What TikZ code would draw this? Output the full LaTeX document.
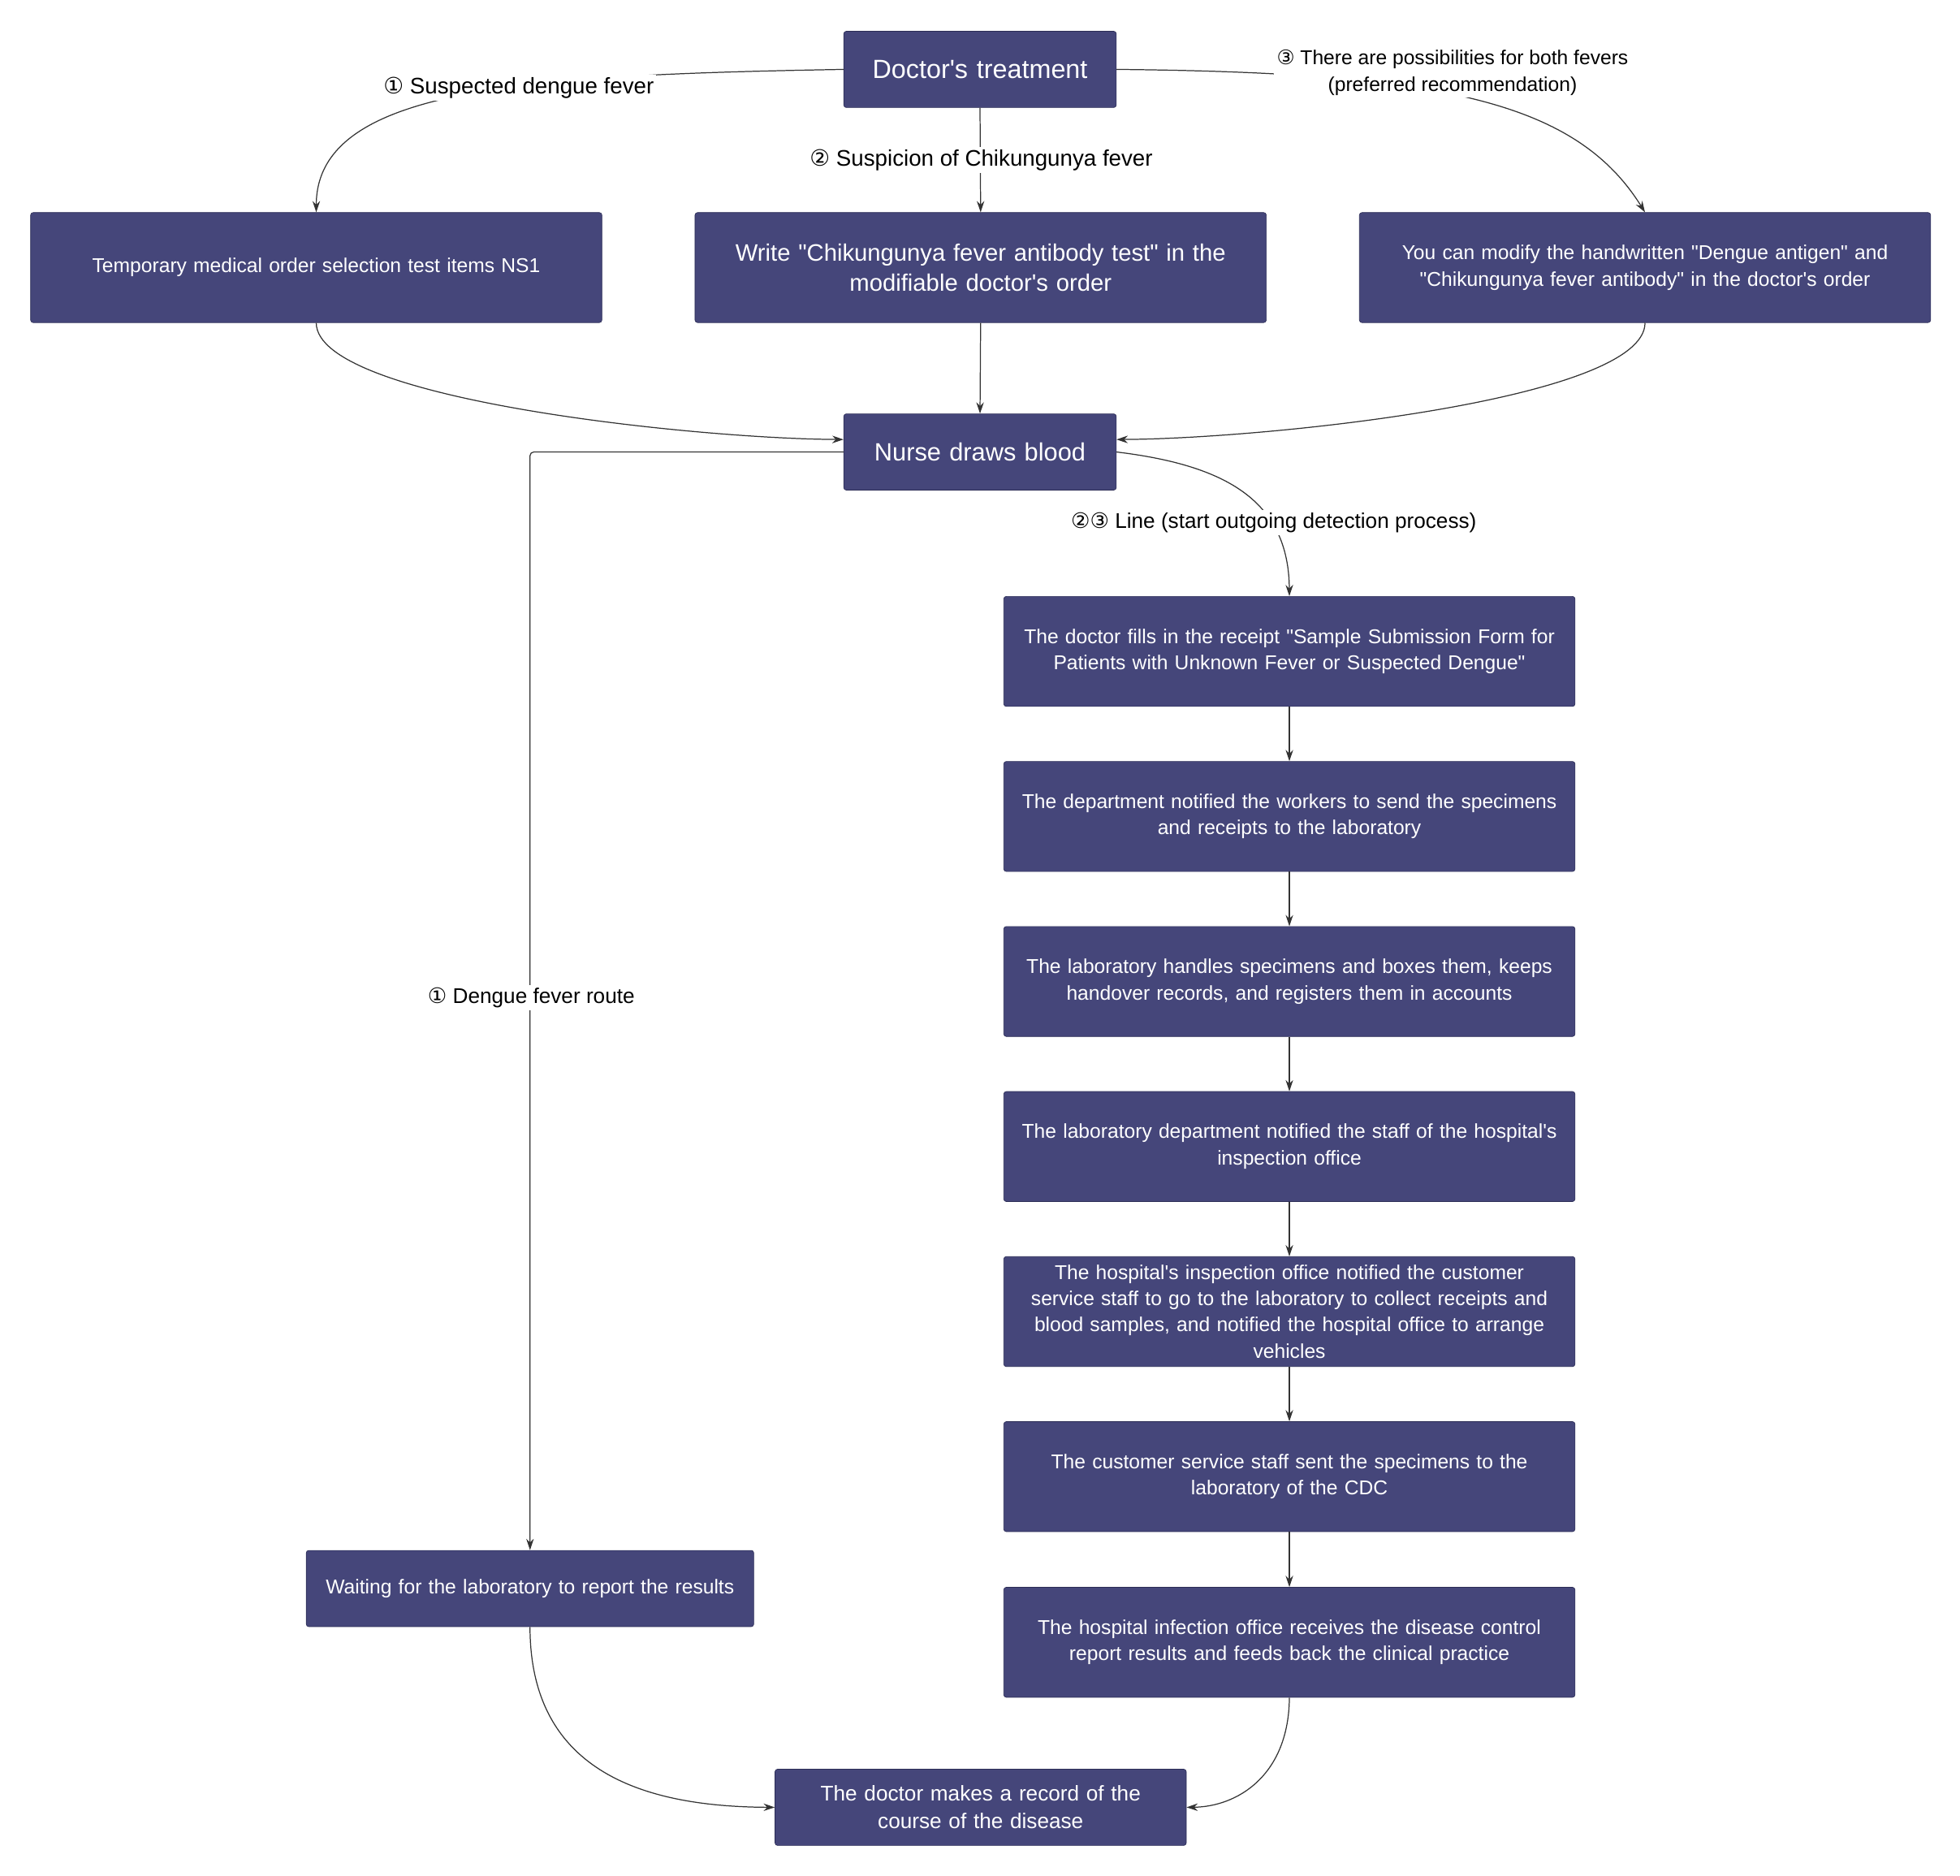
\documentclass[tikz,border=0pt]{standalone}
\usepackage{fontspec}
\setmainfont{Liberation Sans}[Ligatures=TeXOff]
\newfontfamily\circfont{DejaVu Sans}
\newcommand{\cn}[1]{{\circfont #1}}
\usetikzlibrary{arrows.meta}
\definecolor{boxfill}{HTML}{45467A}
\definecolor{boxline}{HTML}{2B2C55}
\definecolor{edge}{HTML}{333333}
\begin{document}
\begin{tikzpicture}[x=1pt,y=-1pt,
  box/.style={draw=boxline,fill=boxfill,rounded corners=2pt,text=white,align=center,
    minimum width=457pt,minimum height=88pt,text width=440pt,inner sep=0pt,
    font=\fontsize{16}{21}\selectfont},
  big/.style={box,minimum width=218pt,minimum height=61pt,text width=210pt,font=\fontsize{21}{26}\selectfont},
  lbl/.style={fill=white,inner sep=2pt,align=center,font=\fontsize{17}{21}\selectfont},
  conn/.style={draw=edge,line width=0.8pt,-{Stealth[length=9pt,width=6pt]}}]
\useasboundingbox (0,0) rectangle (1568,1500);
\node[big] (treat) at (784,55.5) {Doctor's treatment};
\node[box] (ns1) at (253,214) {Temporary medical order selection test items NS1};
\node[box,font=\fontsize{19}{24}\selectfont] (write) at (784.5,214) {Write "Chikungunya fever antibody test" in the\\modifiable doctor's order};
\node[box] (modify) at (1316,214) {You can modify the handwritten "Dengue antigen" and\\"Chikungunya fever antibody" in the doctor's order};
\node[big,font=\fontsize{20}{24}\selectfont] (nurse) at (784,361.5) {Nurse draws blood};
\node[box] (fill) at (1031.5,521) {The doctor fills in the receipt "Sample Submission Form for\\Patients with Unknown Fever or Suspected Dengue"};
\node[box] (dept) at (1031.5,653) {The department notified the workers to send the specimens\\and receipts to the laboratory};
\node[box] (lab) at (1031.5,785) {The laboratory handles specimens and boxes them, keeps\\handover records, and registers them in accounts};
\node[box] (labdept) at (1031.5,917) {The laboratory department notified the staff of the hospital's\\inspection office};
\node[box] (hosp) at (1031.5,1049) {The hospital's inspection office notified the customer\\service staff to go to the laboratory to collect receipts and\\blood samples, and notified the hospital office to arrange\\vehicles};
\node[box] (cust) at (1031.5,1181) {The customer service staff sent the specimens to the\\laboratory of the CDC};
\node[box] (infect) at (1031.5,1313.5) {The hospital infection office receives the disease control\\report results and feeds back the clinical practice};
\node[box,minimum width=358pt,minimum height=61pt,text width=350pt] (wait) at (424,1270.5) {Waiting for the laboratory to report the results};
\node[box,minimum width=329pt,minimum height=61pt,text width=320pt,font=\fontsize{17}{22}\selectfont] (record) at (784.5,1445.5) {The doctor makes a record of the\\course of the disease};

\coordinate (nwin) at ([yshift=10pt]nurse.west);
\coordinate (nein) at ([yshift=10pt]nurse.east);

\path[conn] (treat.west) .. controls (420,60) and (253,70) .. (ns1.north);
\node[lbl,font=\fontsize{18}{22}\selectfont] (l1) at (415,70) {\cn{①} Suspected dengue fever};
\path[conn] (treat.south) -- (write.north);
\node[lbl,font=\fontsize{18}{22}\selectfont] (l2) at (785,128) {\cn{②} Suspicion of Chikungunya fever};
\path[conn] (treat.east) .. controls (1150,58) and (1260,80) .. (modify.north);
\node[lbl,font=\fontsize{16}{21}\selectfont] (l3) at (1162,58) {\cn{③} There are possibilities for both fevers\\(preferred recommendation)};

\path[conn] (ns1.south) .. controls (253,320) and (560,351) .. (nwin);
\path[conn] (write.south) -- (nurse.north);
\path[conn] (modify.south) .. controls (1316,320) and (1010,351) .. (nein);

\path[conn,rounded corners=3pt] (nurse.west) -| (wait.north);
\node[lbl] (l4) at (425,798) {\cn{①} Dengue fever route};
\path[conn] (nurse.east) .. controls (980,372) and (1031,400) .. (fill.north);
\node[lbl] (l5) at (1019,418) {\cn{②③} Line (start outgoing detection process)};

\path[conn] (fill) -- (dept);
\path[conn] (dept) -- (lab);
\path[conn] (lab) -- (labdept);
\path[conn] (labdept) -- (hosp);
\path[conn] (hosp) -- (cust);
\path[conn] (cust) -- (infect);

\path[conn] (wait.south) .. controls (424,1420) and (520,1445) .. (record.west);
\path[conn] (infect.south) .. controls (1031,1420) and (990,1445) .. (record.east);
\end{tikzpicture}
\end{document}
